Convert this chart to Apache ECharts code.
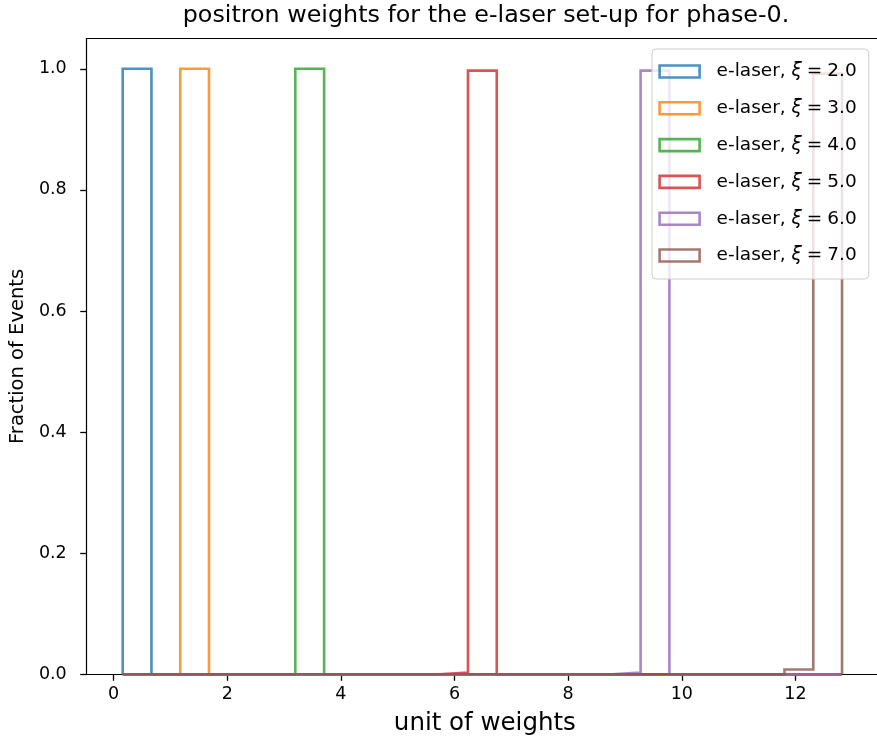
<!DOCTYPE html>
<html>
<head>
<meta charset="utf-8">
<title>positron weights</title>
<script src="https://cdn.jsdelivr.net/npm/echarts@6/dist/echarts.min.js"></script>
<style>
  html, body { margin: 0; padding: 0; background: #ffffff; overflow: hidden; }
  /* the axes box runs slightly past the right edge of the view */
  #chart { width: 884px; height: 743px; }
</style>
</head>
<body>
<div id="chart"></div>
<script>
// Shared histogram bin edges (unit of weights), 25 bins
const binEdges = [
  0.160, 0.666, 1.173, 1.679, 2.186, 2.692, 3.198, 3.705, 4.211, 4.718,
  5.224, 5.730, 6.237, 6.743, 7.250, 7.756, 8.262, 8.769, 9.275, 9.782,
  10.288, 10.794, 11.301, 11.807, 12.314, 12.820
];

// Fraction of events per bin for each xi value
const fracXi2 = [1.000, 0, 0, 0, 0, 0, 0, 0, 0, 0, 0, 0, 0, 0, 0, 0, 0, 0, 0, 0, 0, 0, 0, 0, 0];
const fracXi3 = [0, 0, 1.000, 0, 0, 0, 0, 0, 0, 0, 0, 0, 0, 0, 0, 0, 0, 0, 0, 0, 0, 0, 0, 0, 0];
const fracXi4 = [0, 0, 0, 0, 0, 0, 1.000, 0, 0, 0, 0, 0, 0, 0, 0, 0, 0, 0, 0, 0, 0, 0, 0, 0, 0];
const fracXi5 = [0, 0, 0, 0, 0, 0, 0, 0, 0, 0, 0, 0.003, 0.997, 0, 0, 0, 0, 0, 0, 0, 0, 0, 0, 0, 0];
const fracXi6 = [0, 0, 0, 0, 0, 0, 0, 0, 0, 0, 0, 0, 0, 0, 0, 0, 0, 0.003, 0.997, 0, 0, 0, 0, 0, 0];
const fracXi7 = [0, 0, 0, 0, 0, 0, 0, 0, 0, 0, 0, 0, 0, 0, 0, 0, 0, 0, 0, 0, 0, 0, 0, 0.008, 0.992];

const seriesNames = [
  'e-laser, ξ = 2.0', 'e-laser, ξ = 3.0', 'e-laser, ξ = 4.0',
  'e-laser, ξ = 5.0', 'e-laser, ξ = 6.0', 'e-laser, ξ = 7.0'
];
const seriesValues = [fracXi2, fracXi3, fracXi4, fracXi5, fracXi6, fracXi7];
const seriesColors = ['#1f77b4', '#ff7f0e', '#2ca02c', '#d62728', '#9467bd', '#8c564b'];

const xTickValues = [0, 2, 4, 6, 8, 10, 12];
const yTickValues = [0, 0.2, 0.4, 0.6, 0.8, 1.0];

const FONT = 'DejaVu Sans';
const X_MIN = -0.473;
const X_MAX = 13.453;

// Outline of a step histogram: up the first edge, across each bin top, down the last edge
function stepOutline(values) {
  const pts = [[binEdges[0], 0]];
  for (let i = 0; i < values.length; i++) {
    pts.push([binEdges[i], values[i]]);
    pts.push([binEdges[i + 1], values[i]]);
  }
  pts.push([binEdges[binEdges.length - 1], 0]);
  return pts;
}

const series = seriesNames.map((name, i) => ({
  name: name,
  type: 'line',
  xAxisIndex: 0,
  yAxisIndex: 0,
  data: stepOutline(seriesValues[i]),
  symbol: 'none',
  showSymbol: false,
  clip: false,
  animation: false,
  silent: true,
  lineStyle: { color: seriesColors[i], width: 2.6, opacity: 0.8, join: 'miter', cap: 'butt' },
  itemStyle: { color: seriesColors[i] },
  emphasis: { disabled: true }
}));

const spineStyle = () => ({ show: true, onZero: false, lineStyle: { color: '#000000', width: 1.2 } });
const tickStyle = () => ({ color: '#000000', width: 1.3 });

const chart = echarts.init(document.getElementById('chart'), null, { renderer: 'canvas' });

chart.setOption({
  animation: false,
  backgroundColor: '#ffffff',
  graphic: [{
    type: 'text',
    x: 486,
    y: 16,
    style: {
      text: 'positron weights for the e-laser set-up for phase-0.',
      fontFamily: FONT,
      fontSize: 23.8,
      fill: '#000000',
      textAlign: 'center',
      textVerticalAlign: 'middle'
    }
  }],
  grid: {
    left: 86,
    right: 6,
    top: 38.5,
    bottom: 68.7,
    show: false
  },
  legend: {
    orient: 'vertical',
    left: 652,
    top: 49,
    padding: [13, 12, 14, 6.3],
    itemGap: 17.8,
    itemWidth: 40,
    itemHeight: 12,
    selectedMode: false,
    backgroundColor: 'rgba(255,255,255,0.8)',
    borderColor: '#cccccc',
    borderWidth: 1,
    borderRadius: 4,
    data: seriesNames.map((name, i) => ({
      name: name,
      icon: 'rect',
      itemStyle: {
        color: 'rgba(255,255,255,0)',
        borderColor: seriesColors[i],
        borderWidth: 2.6,
        opacity: 0.8
      }
    })),
    // italic xi with math-style spacing around the equals sign
    formatter: function (name) {
      const parts = name.split('ξ');
      const rhs = parts[1].replace('=', '').trim();
      return '{t|' + parts[0] + '}{m|ξ}{e|=}{t|' + rhs + '}';
    },
    textStyle: {
      padding: [0, 0, 0, 12],
      rich: {
        t: { fontFamily: FONT, fontSize: 18.5, color: '#000000', lineHeight: 14 },
        m: { fontFamily: FONT, fontSize: 18.5, fontStyle: 'italic', color: '#000000', lineHeight: 14 },
        e: { fontFamily: FONT, fontSize: 18.5, color: '#000000', lineHeight: 14, padding: [0, 5, 0, 5] }
      }
    }
  },
  xAxis: [{
    type: 'value',
    min: X_MIN,
    max: X_MAX,
    name: 'unit of weights',
    nameLocation: 'middle',
    nameGap: 37,
    nameTextStyle: { fontFamily: FONT, fontSize: 24.5, color: '#000000', padding: [0, 0, 0, 5] },
    axisLine: spineStyle(),
    axisTick: { show: true, inside: false, length: 6.5, customValues: xTickValues, lineStyle: tickStyle() },
    axisLabel: {
      customValues: xTickValues,
      margin: 11,
      fontFamily: FONT,
      fontSize: 17.5,
      color: '#000000',
      formatter: v => String(v)
    },
    splitLine: { show: false }
  }, {
    // top spine
    type: 'value',
    position: 'top',
    min: X_MIN,
    max: X_MAX,
    axisLine: spineStyle(),
    axisTick: { show: false },
    axisLabel: { show: false },
    splitLine: { show: false }
  }],
  yAxis: {
    type: 'value',
    min: 0,
    max: 1.05,
    name: 'Fraction of Events',
    nameLocation: 'middle',
    nameGap: 55,
    nameRotate: 90,
    nameTextStyle: { fontFamily: FONT, fontSize: 19.5, color: '#000000' },
    axisLine: spineStyle(),
    axisTick: { show: true, inside: false, length: 6.5, customValues: yTickValues, lineStyle: tickStyle() },
    axisLabel: {
      customValues: yTickValues,
      margin: 20,
      fontFamily: FONT,
      fontSize: 17.5,
      color: '#000000',
      formatter: v => v.toFixed(1)
    },
    splitLine: { show: false }
  },
  series: series
});
</script>
</body>
</html>
